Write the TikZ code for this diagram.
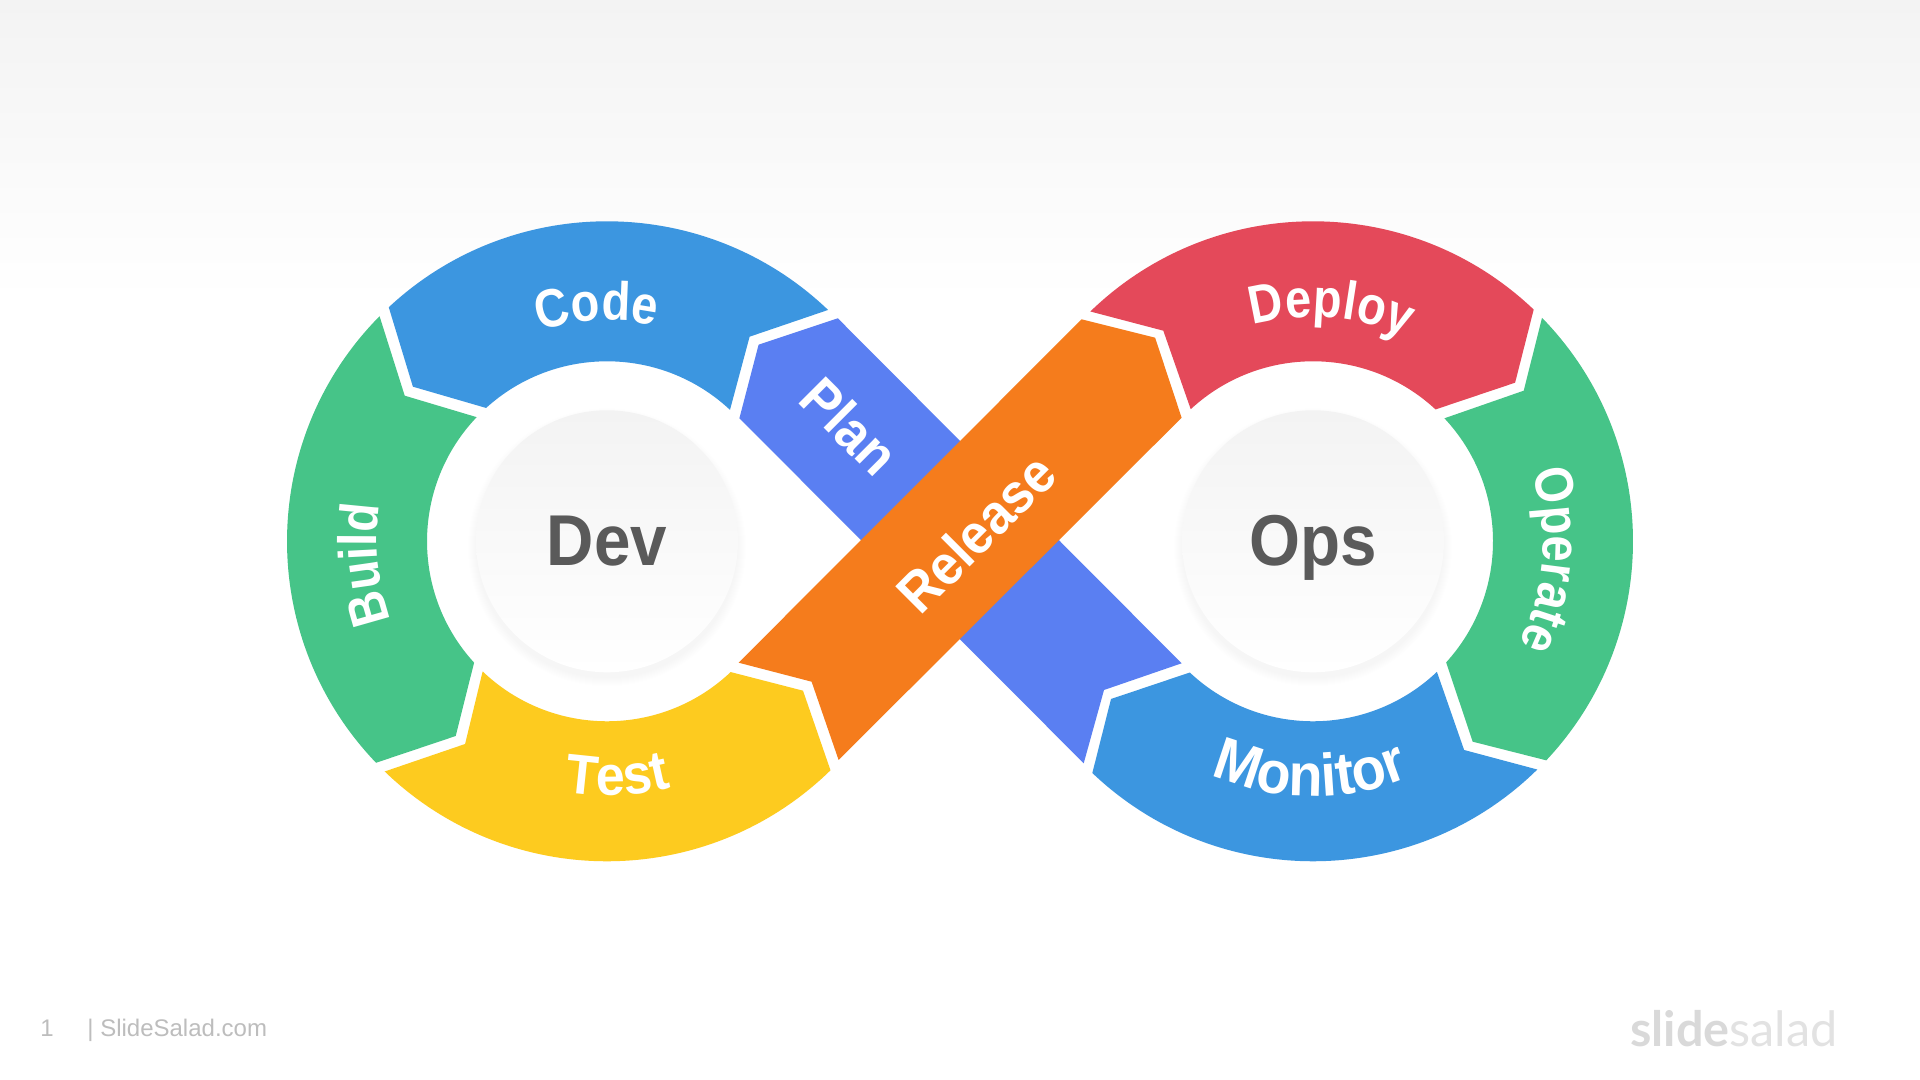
\documentclass[tikz,border=0pt]{standalone}
\usepackage{fontspec}
\usetikzlibrary{decorations.text}
\setmainfont{Liberation Sans}
\newfontfamily\lblfam[FakeStretch=0.93]{Liberation Sans}
\newfontfamily\cwfam[FakeStretch=0.87]{Liberation Sans}
\newfontfamily\hubfam[FakeStretch=0.91]{Liberation Sans}
\newfontfamily\logofam{Lato}
\definecolor{cblue}{HTML}{3C96E0}
\definecolor{cgreen}{HTML}{46C488}
\definecolor{cyellow}{HTML}{FDCB1F}
\definecolor{cred}{HTML}{E4495A}
\definecolor{cplan}{HTML}{5A7FF2}
\definecolor{corange}{HTML}{F57C1C}
\definecolor{ctop}{HTML}{F3F3F3}
\definecolor{cdark}{HTML}{5A5A5A}
\definecolor{cfoot}{HTML}{BDBDBD}
\newcommand{\lblstyle}{\lblfam\bfseries\fontsize{28}{28}\selectfont\color{white}}
\newcommand{\cwstyle}{\cwfam\bfseries\fontsize{27}{27}\selectfont\color{white}}
\newcommand{\monstyle}{\lblfam\bfseries\fontsize{30}{30}\selectfont\color{white}}
% ring segment: centre, outer from/to, inner from/to
\newcommand{\ringseg}[8]{%
  \fill[#1] ([shift={(#2)}]#3:320) arc[start angle=#3,end angle=#4,radius=320]
    -- (#5) -- ([shift={(#2)}]#6:180) arc[start angle=#6,end angle=#7,radius=180]
    -- (#8) -- cycle;}
% curved label: centre, mid angle, radius, text (clockwise)
\newcommand{\cwlabel}[4]{%
  \pgfmathsetmacro\aS{#2+60}\pgfmathsetmacro\aE{#2-60}%
  \path[decorate,decoration={text along path,text align=center,text={|\cwstyle|#4}}]
    ([shift={(#1)}]\aS:#3) arc[start angle=\aS,end angle=\aE,radius=#3];}
\newcommand{\ccwlabel}[5]{%
  \pgfmathsetmacro\aS{#2-50}\pgfmathsetmacro\aE{#2+50}%
  \path[decorate,decoration={text along path,text align=center,text={|#4|#5}}]
    ([shift={(#1)}]\aS:#3) arc[start angle=\aS,end angle=\aE,radius=#3];}
\newcommand{\hubdisc}[1]{%
  \foreach \rr in {139,138,...,131}{\fill[black,opacity=0.004] ([shift={(0,-6)}]#1) circle[radius=\rr];}
  \shade[top color=ctop,middle color=ctop!20!white,bottom color=white] (#1) circle[radius=131];}
\tikzset{
  hubtext/.style={font=\hubfam\bfseries\fontsize{36}{36}\selectfont,text=cdark,inner sep=0pt,anchor=base},
  bandtext/.style={font=\lblstyle,text=white,inner sep=0pt},
  foot/.style={font=\fontsize{12}{12}\selectfont,text=cfoot,inner sep=0pt,anchor=base west}
}
\begin{document}
\begin{tikzpicture}[x=0.5pt,y=0.5pt]
\useasboundingbox (0,0) rectangle (1920,1080);
\fill[white] (0,0) rectangle (1920,1080);
\shade[top color=ctop,bottom color=white] (0,780) rectangle (1920,1080);
\coordinate (L) at (607,538.7);
\coordinate (R) at (1313,538.7);
% Plan band
\fill[cplan] (837.8,761.7) -- (1181.6,416.7) -- (1104,390) -- (1083.7,316.7) -- (739.4,661.7) -- (758.6,735.3) -- cycle;
% Release band
\fill[corange] (738.6,417.3) -- (811.6,398.3) -- (838.6,320) -- (1181.6,662.3) -- (1155.1,742.3) -- (1081.6,760.7) -- cycle;
% Ring segments
\ringseg{cblue}{L}{133}{46.3}{749.6,743.3}{46.9}{132.2}{412.9,693.3}
\ringseg{cgreen}{L}{135.3}{223.8}{455.7,344}{222.4}{136.4}{404.7,684.3}
\ringseg{cyellow}{L}{226}{314.3}{803,389.3}{313.4}{226.3}{465.1,336}
\ringseg{cred}{R}{134.1}{46.4}{1515.1,697.3}{47.1}{132.8}{1163.3,749.3}
\ringseg{cgreen}{R}{44.3}{-43.2}{1472.7,338.3}{-42.3}{43.1}{1523.7,689.3}
\ringseg{cblue}{R}{226.4}{314.5}{1464.1,330}{313.5}{226.8}{1111,381}
% Hubs
\hubdisc{L}
\hubdisc{R}
\node[hubtext] (dev) at (607,514) {Dev};
\node[hubtext] (ops) at (1313,514) {Ops};
% Straight labels
\node[bandtext,rotate=-45] (plan) at (850,654) {Plan};
\node[bandtext,rotate=45] (release) at (976,547) {Release};
% Curved labels
\cwlabel{L}{92.5}{221}{Code}
\cwlabel{L}{185.5}{230}{Build}
\ccwlabel{L}{272.5}{254}{\lblstyle}{Test}
\cwlabel{R}{85.5}{224}{Deploy}
\cwlabel{R}{-4.5}{230}{Operate}
\ccwlabel{R}{269.4}{255}{\monstyle}{Monitor}
% Footer
\node[foot] (pg) at (40,43) {1};
\node[foot] (site) at (87,43) {| SlideSalad.com};
\node[inner sep=0pt,anchor=base west,font=\logofam\fontsize{24.3}{24.3}\selectfont] (logo) at (1630,33)
  {\textcolor[HTML]{D9D9D9}{\bfseries slide}\textcolor[HTML]{E2E2E2}{salad}};
\end{tikzpicture}
\end{document}
